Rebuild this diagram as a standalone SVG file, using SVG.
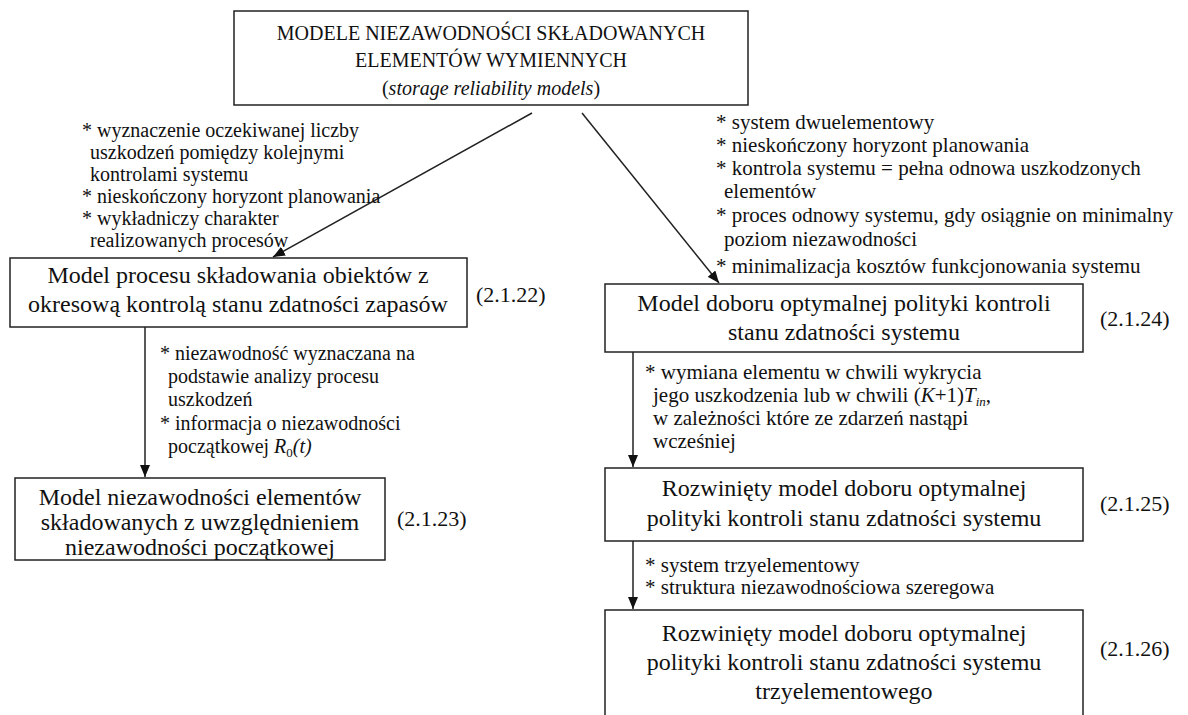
<svg xmlns="http://www.w3.org/2000/svg" width="1188" height="715" viewBox="0 0 1188 715">
  <style>
    text { font-family: "Liberation Serif", "Times New Roman", serif; fill: #111; }
    .box { fill: #fff; stroke: #222; stroke-width: 1.5; }
    .title { font-size: 20px; text-anchor: middle; }
    .lbl { font-size: 24px; text-anchor: middle; }
    .num { font-size: 22px; }
    .note { font-size: 20px; }
    .note-r { font-size: 21px; }
    .edge { stroke: #222; stroke-width: 1.5; fill: none; marker-end: url(#arrow); }
  </style>
  <defs>
    <marker id="arrow" viewBox="0 0 12 10" refX="12" refY="5" markerWidth="12" markerHeight="10" markerUnits="userSpaceOnUse" orient="auto">
      <path d="M0,0 L12,5 L0,10 z" fill="#111"/>
    </marker>
  </defs>
  <rect width="1188" height="715" fill="#fff"/>

  <!-- connectors -->
  <g id="connectors">
    <line class="edge" x1="532" y1="113" x2="273" y2="257"/>
    <line class="edge" x1="582" y1="113" x2="719" y2="283"/>
    <line class="edge" x1="145" y1="327" x2="145" y2="477"/>
    <line class="edge" x1="633" y1="352" x2="633" y2="467"/>
    <line class="edge" x1="633" y1="541" x2="633" y2="609"/>
  </g>

  <!-- edge annotations -->
  <g id="notes">
    <text class="note" x="82" y="137">* wyznaczenie oczekiwanej liczby</text>
    <text class="note" x="90" y="159">uszkodzeń pomiędzy kolejnymi</text>
    <text class="note" x="90" y="181">kontrolami systemu</text>
    <text class="note" x="82" y="203">* nieskończony horyzont planowania</text>
    <text class="note" x="82" y="225">* wykładniczy charakter</text>
    <text class="note" x="90" y="247">realizowanych procesów</text>

    <text class="note-r" x="716" y="129">* system dwuelementowy</text>
    <text class="note-r" x="716" y="152">* nieskończony horyzont planowania</text>
    <text class="note-r" x="716" y="175">* kontrola systemu = pełna odnowa uszkodzonych</text>
    <text class="note-r" x="724" y="198">elementów</text>
    <text class="note-r" x="716" y="222">* proces odnowy systemu, gdy osiągnie on minimalny</text>
    <text class="note-r" x="724" y="246">poziom niezawodności</text>
    <text class="note-r" x="716" y="273">* minimalizacja kosztów funkcjonowania systemu</text>

    <text class="note" x="160" y="360">* niezawodność wyznaczana na</text>
    <text class="note" x="168" y="383">podstawie analizy procesu</text>
    <text class="note" x="168" y="406">uszkodzeń</text>
    <text class="note" x="160" y="430">* informacja o niezawodności</text>
    <text class="note" x="168" y="453">początkowej <tspan font-style="italic">R</tspan><tspan font-size="13" dy="4">0</tspan><tspan font-style="italic" dy="-4">(t)</tspan></text>

    <text class="note-r" x="645" y="379">* wymiana elementu w chwili wykrycia</text>
    <text class="note-r" x="653" y="402">jego uszkodzenia lub w chwili (<tspan font-style="italic">K</tspan>+1)<tspan font-style="italic">T</tspan><tspan font-style="italic" font-size="13" dy="4">in</tspan><tspan dy="-4">,</tspan></text>
    <text class="note-r" x="653" y="425">w zależności które ze zdarzeń nastąpi</text>
    <text class="note-r" x="653" y="448">wcześniej</text>

    <text class="note-r" x="645" y="572">* system trzyelementowy</text>
    <text class="note-r" x="645" y="594">* struktura niezawodnościowa szeregowa</text>
  </g>

  <g id="root">
    <rect class="box" x="234" y="11" width="514" height="94"/>
    <text class="title" x="491" y="40">MODELE NIEZAWODNOŚCI SKŁADOWANYCH</text>
    <text class="title" x="491" y="67">ELEMENTÓW WYMIENNYCH</text>
    <text class="title" x="491" y="95">(<tspan font-style="italic">storage reliability models</tspan>)</text>
  </g>

  <g id="m2122">
    <rect class="box" x="10" y="258" width="457" height="69"/>
    <text class="lbl" x="238" y="283">Model procesu składowania obiektów z</text>
    <text class="lbl" x="238" y="312">okresową kontrolą stanu zdatności zapasów</text>
    <text class="num" x="476" y="302">(2.1.22)</text>
  </g>

  <g id="m2123">
    <rect class="box" x="15" y="478" width="370" height="82"/>
    <text class="lbl" x="200" y="505">Model niezawodności elementów</text>
    <text class="lbl" x="200" y="530">składowanych z uwzględnieniem</text>
    <text class="lbl" x="200" y="555">niezawodności początkowej</text>
    <text class="num" x="397" y="526">(2.1.23)</text>
  </g>

  <g id="m2124">
    <rect class="box" x="605" y="284" width="478" height="68"/>
    <text class="lbl" x="844" y="311">Model doboru optymalnej polityki kontroli</text>
    <text class="lbl" x="844" y="340">stanu zdatności systemu</text>
    <text class="num" x="1100" y="326">(2.1.24)</text>
  </g>

  <g id="m2125">
    <rect class="box" x="605" y="468" width="478" height="73"/>
    <text class="lbl" x="844" y="496">Rozwinięty model doboru optymalnej</text>
    <text class="lbl" x="844" y="526">polityki kontroli stanu zdatności systemu</text>
    <text class="num" x="1100" y="511">(2.1.25)</text>
  </g>

  <g id="m2126">
    <rect class="box" x="605" y="610" width="478" height="120"/>
    <text class="lbl" x="844" y="641">Rozwinięty model doboru optymalnej</text>
    <text class="lbl" x="844" y="670">polityki kontroli stanu zdatności systemu</text>
    <text class="lbl" x="844" y="699">trzyelementowego</text>
    <text class="num" x="1100" y="656">(2.1.26)</text>
  </g>
</svg>
